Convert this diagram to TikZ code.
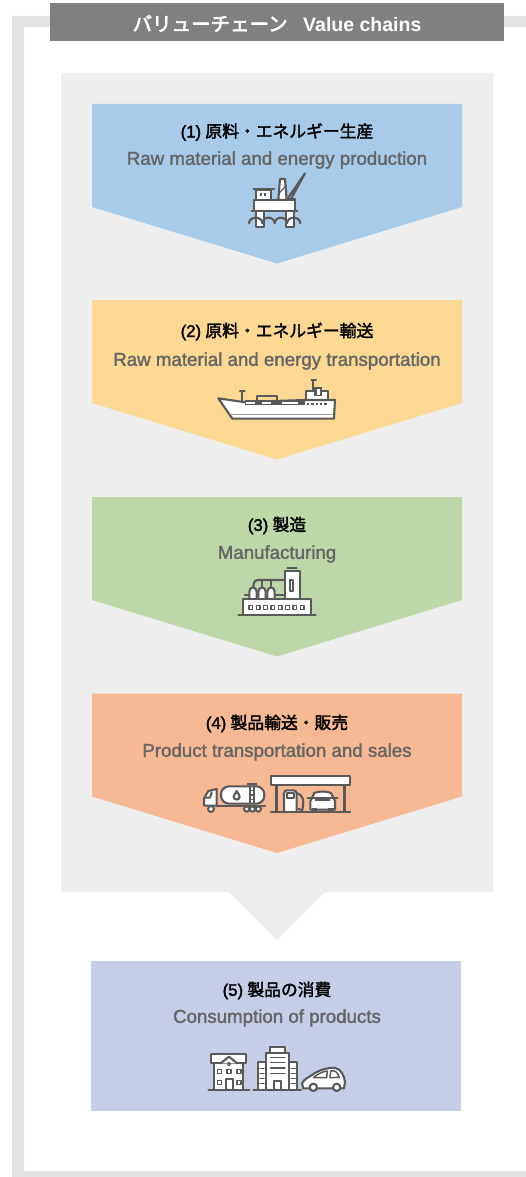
\documentclass[tikz,border=0pt]{standalone}
\usepackage{fontspec}
\setmainfont{Liberation Sans}
\newfontfamily\jp{Noto Sans CJK JP}[FakeBold=2]
\newfontfamily\jpb{Noto Sans CJK JP}[FakeBold=3]
\newfontfamily\lab{Liberation Sans}[FakeBold=2]
\newfontfamily\labb{Liberation Sans Bold}
\newfontfamily\subf{Liberation Sans}[FakeBold=1.7]
\definecolor{band}{HTML}{E3E3E3}
\definecolor{bar}{HTML}{808080}
\definecolor{panel}{HTML}{EEEEEE}
\definecolor{cblue}{HTML}{A9CBEA}
\definecolor{cyellow}{HTML}{FCD893}
\definecolor{cgreen}{HTML}{BDD7A9}
\definecolor{corange}{HTML}{F7B993}
\definecolor{cviolet}{HTML}{C5CDE7}
\definecolor{ink}{HTML}{595959}
\definecolor{subtext}{HTML}{666666}
\tikzset{
  titletext/.style={text=white,inner sep=0pt,anchor=center,font=\fontsize{19.5}{22}\selectfont},
  headtext/.style={text=black,inner sep=0pt,anchor=center,font=\fontsize{16.8}{19}\selectfont},
  subtexts/.style={text=subtext,inner sep=0pt,anchor=center,font=\subf\fontsize{18.7}{21}\selectfont},
  icon/.style={draw=ink,line width=2.1pt,line join=round,line cap=round},
  iconw/.style={icon,fill=white},
  zoomed/.style={x=0.3333pt,y=-0.3333pt}
}
\newcommand{\chev}[2]{%
  \fill[#2] (92,#1) -- (462,#1) -- (462,#1+103) -- (277,#1+159.5) -- (92,#1+103) -- cycle;}
\newcommand{\wheel}[3]{\draw[iconw] (#1,#2) circle[radius=#3];}
\begin{document}
\begin{tikzpicture}[x=1pt,y=-1pt]
\useasboundingbox (0,0) rectangle (526,1177);
% frame
\fill[white] (0,0) rectangle (526,1177);
\fill[band] (12,16) -- (526,16) -- (526,27) -- (24,27) -- (24,1171) -- (526,1171) -- (526,1177) -- (12,1177) -- cycle;
\fill[bar] (50,3) rectangle (504,41);
\node[titletext] (title) at (277,23.5) {\jpb バリューチェーン\hspace{0.8em}\labb Value chains};
% panel
\fill[panel] (61,73) -- (493,73) -- (493,892) -- (325,892) -- (277,940) -- (229,892) -- (61,892) -- cycle;
\chev{104}{cblue}
\chev{300}{cyellow}
\chev{497}{cgreen}
\chev{693.5}{corange}
\fill[cviolet] (90.5,961) rectangle (461,1111);
% labels
\node[headtext] (h1) at (277,132) {\lab (1)\hspace{0.25em}\jp 原料・エネルギー生産};
\node[subtexts] (s1) at (277,160) {Raw material and energy production};
\node[headtext] (h2) at (277,331.5) {\lab (2)\hspace{0.25em}\jp 原料・エネルギー輸送};
\node[subtexts] (s2) at (277,361) {Raw material and energy transportation};
\node[headtext] (h3) at (277,525.5) {\lab (3)\hspace{0.25em}\jp 製造};
\node[subtexts] (s3) at (277,554) {Manufacturing};
\node[headtext] (h4) at (277,723.5) {\lab (4)\hspace{0.25em}\jp 製品輸送・販売};
\node[subtexts] (s4) at (277,752) {Product transportation and sales};
\node[headtext] (h5) at (277,990.5) {\lab (5)\hspace{0.25em}\jp 製品の消費};
\node[subtexts] (s5) at (277,1018) {Consumption of products};
% oil rig
\begin{scope}[shift={(230,165)},zoomed]
  \draw[iconw] (78,137) rectangle (103,186);
  \draw[iconw] (167,137) rectangle (192,186);
  \draw[icon] (172,102) -- (225,25) -- (183,102);
  \draw[icon] (172,102) -- (195,102);
  \draw[iconw] (150,42) -- (165,42) -- (170,105) -- (145,105) -- cycle;
  \draw[icon,line width=1.2pt] (147,85) -- (168,62);
  \draw[iconw] (78,75) rectangle (122,105);
  \draw[icon] (70,72) -- (132,72);
  \fill[ink] (90,83) rectangle (96,93);
  \fill[ink] (103,83) rectangle (109,93);
  \draw[iconw] (72,105) rectangle (195,137);
  \draw[icon] (65,137) -- (202,137);
  \draw[icon] (57,175) arc[start angle=180,end angle=360,x radius=20,y radius=17]
     arc[start angle=180,end angle=360,x radius=18.5,y radius=17]
     arc[start angle=180,end angle=360,x radius=18.5,y radius=17]
     arc[start angle=180,end angle=360,x radius=20,y radius=17];
\end{scope}
% ship
\begin{scope}[shift={(210,370)},zoomed]
  \draw[icon] (97,63) -- (97,92);
  \draw[icon] (90,63) -- (104,63);
  \draw[icon] (310,30) -- (310,62);
  \draw[icon] (304,30) -- (318,30);
  \draw[iconw] (288,64) rectangle (355,90);
  \fill[ink] (312,50) rectangle (336,78);
  \fill[white] (320,57) rectangle (330,74);
  \draw[icon] (140,92) -- (140,78) -- (200,78) -- (200,92);
  \draw[iconw] (25,85) -- (100,96) -- (285,90) -- (375,90) -- (372,146) -- (67,146) -- cycle;
  \fill[ink] (105,91) rectangle (285,105);
  \fill[white] (108,97) rectangle (135,101);
  \fill[white] (155,97) rectangle (182,101);
  \fill[white] (215,97) rectangle (265,101);
  \foreach \wx in {291,304,317,330,343} \fill[ink] (\wx,99) rectangle +(7,7);
  \draw[draw=ink!55,line width=1.3pt] (60,134) -- (370,134);
\end{scope}
% factory
\begin{scope}[shift={(230,560)},zoomed]
  \draw[icon] (70,82) .. controls (70,66) and (75,60) .. (85,60) -- (165,60);
  \draw[icon] (96,82) -- (96,60);
  \draw[icon] (123,82) -- (123,60);
  \draw[icon] (45,104) -- (58,104);
  \draw[icon] (134,104) -- (165,104);
  \draw[iconw] (172,24) -- (200,24);
  \draw[iconw] (165,118) -- (165,32) -- (210,32) -- (210,118) -- cycle;
  \draw[icon] (179,60) rectangle (190,92);
  \foreach \tx in {58,85,112}
    \draw[iconw] (\tx,118) -- (\tx,95) .. controls (\tx,88) and (\tx+5,82) .. (\tx+11,82)
      .. controls (\tx+17,82) and (\tx+22,88) .. (\tx+22,95) -- (\tx+22,118) -- cycle;
  \draw[iconw] (40,118) rectangle (243,165);
  \draw[icon] (25,165) -- (257,165);
  \foreach \wx in {62,84,106,128,150,172,194,216}
    \draw[icon,line width=1.5pt] (\wx-5,136) rectangle (\wx+6,148);
\end{scope}
% truck and station
\begin{scope}[shift={(195,765)},zoomed]
  \draw[iconw] (27,122) -- (27,100) -- (40,78) -- (65,72) -- (65,122) -- cycle;
  \draw[icon] (32,98) -- (45,98) -- (50,82);
  \draw[iconw,rounded corners=8pt] (78,64) rectangle (208,116);
  \draw[icon] (158,56) -- (185,56);
  \draw[icon] (165,64) -- (165,116);
  \draw[icon] (178,64) -- (178,116);
  \draw[icon,line width=1.2pt] (165,76) -- (178,76) (165,90) -- (178,90) (165,104) -- (178,104);
  \draw[icon] (125,78) .. controls (120,88) and (115,93) .. (116,96) .. controls (117,106) and (133,106) .. (134,96) .. controls (135,93) and (130,88) .. (125,78) -- cycle;
  \draw[icon] (65,122) -- (210,122);
  \wheel{48}{132}{9}
  \wheel{155}{132}{8}
  \wheel{172}{132}{8}
  \wheel{190}{132}{8}
  \draw[iconw] (228,33) rectangle (466,59);
  \fill[ink] (241,59) rectangle (250,142);
  \fill[ink] (443,59) rectangle (453,142);
  \draw[iconw,rounded corners=3pt] (267,142) -- (267,76) -- (305,76) -- (305,142);
  \draw[icon] (275,85) rectangle (298,100);
  \draw[icon] (305,84) .. controls (325,90) and (328,105) .. (322,135) -- (310,132);
  \draw[iconw] (346,134) -- (346,108) -- (358,84) .. controls (370,78) and (395,78) .. (408,84) -- (420,108) -- (420,134) -- cycle;
  \draw[icon] (338,99) -- (428,99);
  \draw[icon] (362,104) -- (404,104);
  \fill[ink] (350,130) rectangle (366,142);
  \fill[ink] (400,130) rectangle (416,142);
  \draw[icon] (228,142) -- (465,142);
\end{scope}
% buildings and car
\begin{scope}[shift={(200,1040)},zoomed]
  \draw[iconw] (42,70) rectangle (130,150);
  \draw[iconw] (33,70) -- (33,43) -- (138,43) -- (138,70) -- cycle;
  \draw[iconw] (62,70) -- (87,50) -- (112,70);
  \draw[icon,line width=1.2pt] (87,72) circle[radius=5];
  \foreach \wx in {58,87,117} \draw[icon,line width=1.5pt] (\wx-6,89) rectangle (\wx+6,101);
  \foreach \wx in {58,117} \draw[icon,line width=1.5pt] (\wx-6,122) rectangle (\wx+6,134);
  \draw[icon] (78,150) -- (78,118) -- (98,118) -- (98,150);
  \draw[icon] (25,150) -- (148,150);
  \draw[iconw] (175,150) -- (175,67) -- (290,67) -- (290,150) -- cycle;
  \draw[iconw] (210,40) -- (210,22) -- (255,22) -- (255,40);
  \draw[iconw] (198,150) -- (198,40) -- (268,40) -- (268,150) -- cycle;
  \foreach \ly in {52,68,84,100} \draw[icon,line width=1.5pt] (212,\ly) -- (255,\ly);
  \foreach \ly in {85,100,115,130} {\draw[icon,line width=1.5pt] (180,\ly) -- (192,\ly); \draw[icon,line width=1.5pt] (274,\ly) -- (286,\ly);}
  \draw[icon] (222,150) -- (222,122) -- (243,122) -- (243,150);
  \draw[icon] (160,150) -- (303,150);
  \draw[iconw] (310,145) -- (306,130) .. controls (312,118) and (325,112) .. (338,104)
     .. controls (355,90) and (385,82) .. (405,84) .. controls (422,86) and (432,105) .. (435,125) -- (432,145) -- cycle;
  \draw[icon,line width=1.5pt] (340,113) .. controls (355,100) and (370,94) .. (382,93) -- (380,113) -- cycle;
  \draw[icon,line width=1.5pt] (392,93) .. controls (405,90) and (413,96) .. (418,112) -- (390,113) -- cycle;
  \wheel{340}{142}{11}
  \wheel{410}{142}{11}
\end{scope}
\end{tikzpicture}
\end{document}
